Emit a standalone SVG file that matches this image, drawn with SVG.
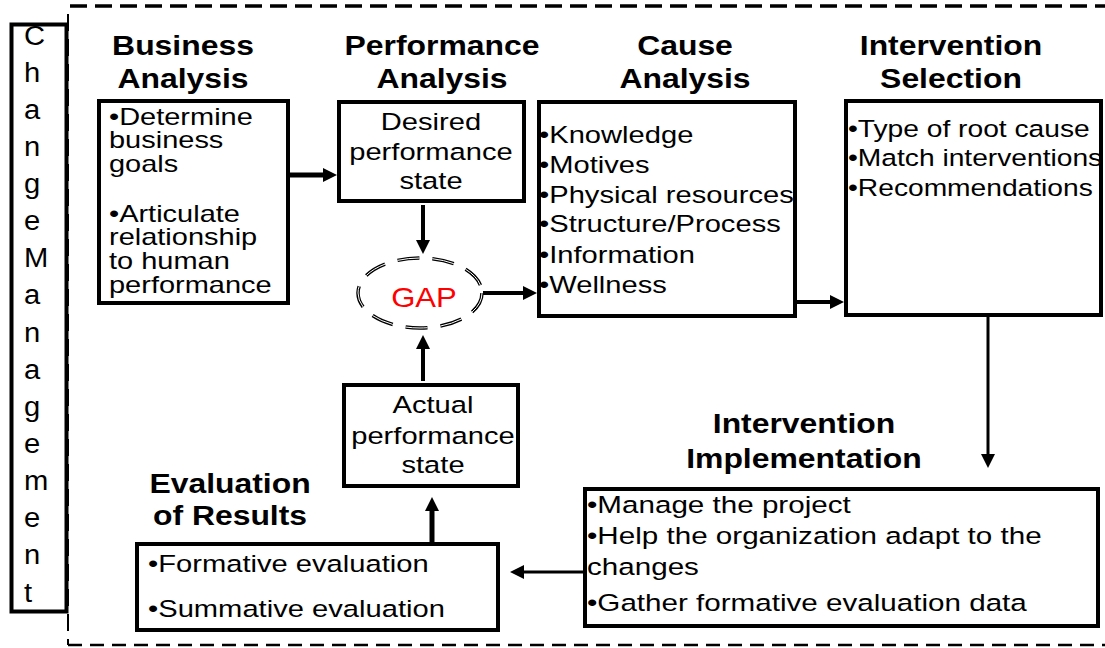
<svg xmlns="http://www.w3.org/2000/svg" width="1105" height="648" viewBox="0 0 1105 648">
  <style>
    .box{fill:#fff;stroke:#000;stroke-width:4}
    .ttl{font-family:"Liberation Sans",Arial,sans-serif;font-weight:bold;font-size:27.5px;text-anchor:middle;fill:#000}
    .txt{font-family:"Liberation Sans",Arial,sans-serif;font-size:23.5px;fill:#000}
    .mid{text-anchor:middle}
    .vert{font-family:"Liberation Sans",Arial,sans-serif;font-size:27px;fill:#000}
    .con{stroke:#000;fill:none;marker-end:url(#ah)}
    .frame{stroke:#000;fill:none}
  </style>
  <defs>
    <marker id="ah" markerUnits="userSpaceOnUse" markerWidth="14" markerHeight="14" refX="4" refY="7" orient="auto">
      <path d="M0,0 L14,7 L0,14 z" fill="#000"/>
    </marker>
  </defs>

  <!-- dashed frame around the process -->
  <g id="frame">
    <line class="frame" x1="70" y1="6" x2="1105" y2="6" stroke-width="3.5" stroke-dasharray="17 8"/>
    <line class="frame" x1="68" y1="14" x2="68" y2="645" stroke-width="2" stroke-dasharray="17 8"/>
    <line class="frame" x1="68" y1="645" x2="1105" y2="645" stroke-width="2.5" stroke-dasharray="14 8"/>
  </g>

  <!-- vertical Change Management bar -->
  <g id="change-management">
    <rect class="box" x="11.5" y="24.5" width="55" height="587"/>
    <text class="vert" transform="matrix(1.08 0 0 1 24 0)">
      <tspan x="0" y="45">C</tspan><tspan x="0" y="82">h</tspan><tspan x="0" y="119">a</tspan><tspan x="0" y="156">n</tspan>
      <tspan x="0" y="193">g</tspan><tspan x="0" y="230">e</tspan><tspan x="0" y="267">M</tspan><tspan x="0" y="304">a</tspan>
      <tspan x="0" y="342">n</tspan><tspan x="0" y="379">a</tspan><tspan x="0" y="416">g</tspan><tspan x="0" y="453">e</tspan>
      <tspan x="0" y="490">m</tspan><tspan x="0" y="527">e</tspan><tspan x="0" y="564">n</tspan><tspan x="0" y="602">t</tspan>
    </text>
  </g>

  <!-- connectors -->
  <g id="connectors">
    <line class="con" x1="290" y1="175" x2="327" y2="175" stroke-width="5"/>
    <line class="con" x1="423" y1="205" x2="423" y2="244" stroke-width="4"/>
    <line class="con" x1="483" y1="293" x2="527" y2="293" stroke-width="4"/>
    <line class="con" x1="797" y1="302" x2="834" y2="302" stroke-width="4"/>
    <line class="con" x1="988" y1="317" x2="988" y2="458" stroke-width="3"/>
    <line class="con" x1="583" y1="572" x2="520" y2="572" stroke-width="3"/>
    <line class="con" x1="432" y1="542" x2="432" y2="507" stroke-width="5"/>
    <line class="con" x1="423" y1="381" x2="423" y2="345" stroke-width="4"/>
  </g>

  <g id="business-analysis">
    <text class="ttl" transform="matrix(1.16 0 0 1 183 0)"><tspan x="0" y="55">Business</tspan><tspan x="0" y="88">Analysis</tspan></text>
    <rect class="box" x="99" y="101" width="189" height="202"/>
    <text class="txt" transform="matrix(1.26 0 0 1 109 0)" style="font-size:23px">
      <tspan x="0" y="125">•Determine</tspan><tspan x="0" y="148">business</tspan><tspan x="0" y="172">goals</tspan>
      <tspan x="0" y="222">•Articulate</tspan><tspan x="0" y="245">relationship</tspan><tspan x="0" y="269">to human</tspan><tspan x="0" y="293">performance</tspan>
    </text>
  </g>

  <g id="performance-analysis">
    <text class="ttl" transform="matrix(1.16 0 0 1 442 0)"><tspan x="0" y="55">Performance</tspan><tspan x="0" y="88">Analysis</tspan></text>
    <rect class="box" x="339" y="102" width="185" height="99"/>
    <text class="txt mid" transform="matrix(1.24 0 0 1 431 0)">
      <tspan x="0" y="130">Desired</tspan><tspan x="0" y="160">performance</tspan><tspan x="0" y="189">state</tspan>
    </text>
  </g>

  <g id="gap">
    <ellipse cx="420" cy="293" rx="62" ry="35" fill="#fff" stroke="#000" stroke-width="3.5" stroke-dasharray="22 13"/>
    <ellipse cx="420" cy="293" rx="62" ry="35" fill="none" stroke="#fff" stroke-width="1" stroke-dasharray="22 13"/>
    <text class="txt mid" transform="matrix(1.15 0 0 1 424 0)" style="font-size:27px;fill:#ff0000"><tspan x="0" y="307">GAP</tspan></text>
  </g>

  <g id="actual-performance">
    <rect class="box" x="344" y="385" width="174" height="101"/>
    <text class="txt mid" transform="matrix(1.24 0 0 1 433 0)">
      <tspan x="0" y="413">Actual</tspan><tspan x="0" y="444">performance</tspan><tspan x="0" y="473">state</tspan>
    </text>
  </g>

  <g id="cause-analysis">
    <text class="ttl" transform="matrix(1.16 0 0 1 685 0)"><tspan x="0" y="55">Cause</tspan><tspan x="0" y="88">Analysis</tspan></text>
    <rect class="box" x="539" y="102" width="256" height="214"/>
    <text class="txt" transform="matrix(1.24 0 0 1 539 0)">
      <tspan x="0" y="143">•Knowledge</tspan><tspan x="0" y="173">•Motives</tspan><tspan x="0" y="203">•Physical resources</tspan>
      <tspan x="0" y="232">•Structure/Process</tspan><tspan x="0" y="263">•Information</tspan><tspan x="0" y="293">•Wellness</tspan>
    </text>
  </g>

  <g id="intervention-selection">
    <text class="ttl" transform="matrix(1.16 0 0 1 951 0)"><tspan x="0" y="55">Intervention</tspan><tspan x="0" y="88">Selection</tspan></text>
    <rect class="box" x="846" y="101" width="255" height="214"/>
    <text class="txt" transform="matrix(1.2 0 0 1 848 0)">
      <tspan x="0" y="137">•Type of root cause</tspan><tspan x="0" y="166">•Match interventions</tspan><tspan x="0" y="196">•Recommendations</tspan>
    </text>
  </g>

  <g id="intervention-implementation">
    <text class="ttl" transform="matrix(1.16 0 0 1 804 0)"><tspan x="0" y="433">Intervention</tspan><tspan x="0" y="468">Implementation</tspan></text>
    <rect class="box" x="585" y="489" width="513" height="137"/>
    <text class="txt" transform="matrix(1.26 0 0 1 587 0)">
      <tspan x="0" y="513">•Manage the project</tspan><tspan x="0" y="544">•Help the organization adapt to the</tspan>
      <tspan x="0" y="575">changes</tspan><tspan x="0" y="611">•Gather formative evaluation data</tspan>
    </text>
  </g>

  <g id="evaluation-of-results">
    <text class="ttl" transform="matrix(1.16 0 0 1 230 0)"><tspan x="0" y="493">Evaluation</tspan><tspan x="0" y="525">of Results</tspan></text>
    <rect class="box" x="137" y="544" width="361" height="86"/>
    <text class="txt" transform="matrix(1.24 0 0 1 148 0)">
      <tspan x="0" y="572">•Formative evaluation</tspan><tspan x="0" y="617">•Summative evaluation</tspan>
    </text>
  </g>
</svg>
